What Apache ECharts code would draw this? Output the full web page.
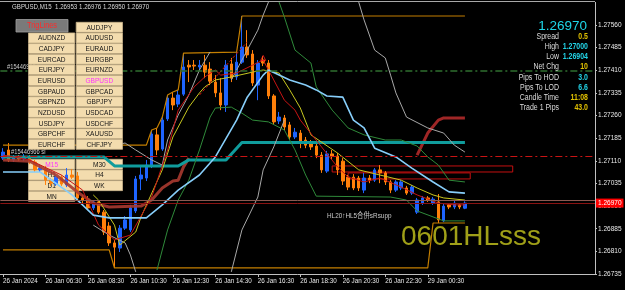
<!DOCTYPE html>
<html><head><meta charset="utf-8">
<script src="https://cdn.jsdelivr.net/npm/echarts@6/dist/echarts.min.js"></script>
<style>html,body{margin:0;padding:0;background:#000;}#c{width:625px;height:290px;}</style>
</head><body><div id="c"></div>
<script>
const BASE = 1.26735;
const tickLabels = [[0,'26 Jan 2024'],[8,'26 Jan 06:30'],[16,'26 Jan 08:30'],[24,'26 Jan 10:30'],[32,'26 Jan 12:30'],[40,'26 Jan 14:30'],[48,'26 Jan 16:30'],[56,'26 Jan 18:30'],[64,'26 Jan 20:30'],[72,'26 Jan 22:30'],[80,'29 Jan 00:30']];

const open = [1.27119,1.27146,1.27113,1.27123,1.27116,1.27123,1.27106,1.27080,1.27086,1.27046,
1.27033,1.27056,1.27030,1.27063,1.27060,1.26987,1.26983,1.26954,1.26974,1.26940,
1.26894,1.26838,1.26821,1.26887,1.26881,1.26944,1.27050,1.27053,1.27096,1.27196,
1.27149,1.27249,1.27318,1.27298,1.27331,1.27427,1.27427,1.27421,1.27427,1.27414,
1.27371,1.27335,1.27295,1.27431,1.27388,1.27437,1.27487,1.27464,1.27361,1.27444,
1.27434,1.27325,1.27242,1.27252,1.27229,1.27189,1.27202,1.27179,1.27169,1.27159,
1.27129,1.27076,1.27133,1.27126,1.27109,1.27056,1.27056,1.27053,1.27013,1.27053,
1.27046,1.27080,1.27070,1.27040,1.27013,1.27020,1.27020,1.27003,1.26940,1.26970,
1.26987,1.26970,1.26974,1.26911,1.26964,1.26957,1.26964,1.26953];
const close = [1.27139,1.27113,1.27123,1.27116,1.27123,1.27106,1.27080,1.27086,1.27046,1.27036,
1.27056,1.27033,1.27063,1.27056,1.26987,1.26980,1.26954,1.26974,1.26940,1.26874,
1.26838,1.26824,1.26887,1.26914,1.26954,1.27050,1.27063,1.27096,1.27199,1.27146,
1.27245,1.27318,1.27295,1.27328,1.27421,1.27421,1.27424,1.27427,1.27404,1.27374,
1.27335,1.27295,1.27427,1.27384,1.27437,1.27487,1.27461,1.27368,1.27434,1.27434,
1.27325,1.27239,1.27255,1.27222,1.27189,1.27205,1.27169,1.27162,1.27156,1.27129,
1.27080,1.27133,1.27126,1.27080,1.27043,1.27023,1.27020,1.27020,1.27053,1.27046,
1.27080,1.27070,1.27040,1.27013,1.27040,1.27040,1.27003,1.27023,1.26980,1.26987,
1.26980,1.26983,1.26914,1.26960,1.26957,1.26970,1.26957,1.26970];
const high = [1.27152,1.27169,1.27129,1.27129,1.27133,1.27129,1.27113,1.27096,1.27093,1.27053,
1.27063,1.27063,1.27086,1.27083,1.27073,1.26997,1.26993,1.26980,1.26980,1.26947,
1.26907,1.26848,1.26897,1.26927,1.26964,1.27060,1.27093,1.27113,1.27212,1.27219,
1.27255,1.27328,1.27338,1.27345,1.27467,1.27444,1.27444,1.27444,1.27461,1.27437,
1.27394,1.27384,1.27444,1.27451,1.27470,1.27590,1.27543,1.27477,1.27444,1.27457,
1.27444,1.27331,1.27272,1.27262,1.27239,1.27219,1.27212,1.27189,1.27179,1.27169,
1.27139,1.27143,1.27146,1.27136,1.27119,1.27063,1.27066,1.27060,1.27070,1.27063,
1.27086,1.27096,1.27076,1.27046,1.27046,1.27046,1.27027,1.27030,1.26987,1.26993,
1.26993,1.26990,1.27000,1.26970,1.26970,1.26977,1.26970,1.26976];
const low = [1.27113,1.27106,1.27106,1.27109,1.27109,1.27099,1.27073,1.27073,1.27030,1.27027,
1.27027,1.27027,1.27023,1.27050,1.26980,1.26970,1.26947,1.26947,1.26934,1.26864,
1.26828,1.26755,1.26808,1.26881,1.26874,1.26937,1.27013,1.27043,1.27086,1.27129,
1.27143,1.27242,1.27278,1.27288,1.27325,1.27371,1.27411,1.27411,1.27384,1.27361,
1.27321,1.27278,1.27272,1.27371,1.27378,1.27431,1.27451,1.27358,1.27311,1.27424,
1.27315,1.27229,1.27232,1.27212,1.27179,1.27182,1.27152,1.27152,1.27146,1.27119,
1.27070,1.27070,1.27116,1.27063,1.27030,1.27013,1.27013,1.27010,1.27003,1.27036,
1.27040,1.27036,1.27030,1.27003,1.27007,1.27013,1.26997,1.26997,1.26934,1.26964,
1.26974,1.26964,1.26904,1.26907,1.26950,1.26950,1.26950,1.26950];

// indicator lines: [barIndex, price]
const lightBlue = [[0,1.27073],[7,1.27073],[13,1.26997],[17,1.26930],[20,1.26921],[27,1.26921],[30,1.26964],[33,1.27013],[37,1.27063],[40,1.27123],[44,1.27245],[46,1.27321],[49,1.27394],[50,1.27411],[54,1.27378],[57,1.27361],[59,1.27345],[61,1.27325],[64,1.27321],[66,1.27245],[68,1.27219],[70,1.27152],[74,1.27123],[77,1.27086],[81,1.27040],[84,1.27007],[87,1.27003]];
const teal = [[0,1.27123],[19,1.27123],[21,1.27093],[33,1.27093],[35,1.27113],[42,1.27113],[45,1.27171],[87,1.27171]];
const chanHigh = [[0,1.27162],[27,1.27162],[28,1.27212],[29,1.27219],[30,1.27255],[31,1.27328],[32,1.27338],[33,1.27345],[34,1.27467],[44,1.27470],[45,1.27590],[87,1.27590]];
const chanLow = [[0,1.26815],[20,1.26815],[21,1.26755],[80,1.26755],[81,1.26904],[87,1.26904]];
const grayA = [[17,1.26897],[20,1.26864],[23,1.26838],[24,1.26798],[25,1.26742]];
const grayB = [[21,1.27162],[23,1.27169],[25,1.27146],[28,1.27113],[30,1.27096],[31,1.27179],[33,1.27262],[35,1.27328],[37,1.27411],[39,1.27471]];
const grayC = [[43,1.26742],[45,1.26881],[48,1.26990],[49,1.27080],[51,1.27156],[53,1.27245]];
const grayD = [[43,1.27378],[46,1.27477],[48,1.27543],[49,1.27593],[50,1.27636]];
const grayE = [[67,1.27636],[68,1.27577],[70,1.27477],[72,1.27451],[73,1.27394],[74,1.27335],[76,1.27255],[80,1.27219],[83,1.27202],[85,1.27162],[87,1.27139]];
const greenA = [[29,1.26748],[31,1.26881],[33,1.26980],[35,1.27046],[37,1.27146],[39,1.27255],[40,1.27285],[43,1.27288],[45,1.27268],[47,1.27245],[50,1.27239],[53,1.27212],[55,1.27146],[57,1.27063],[59,1.26993],[73,1.26990],[76,1.26980],[78,1.26944],[83,1.26911],[87,1.26911]];
const greenB = [[52,1.27636],[53,1.27586],[55,1.27477],[58,1.27434],[59,1.27355],[62,1.27278],[65,1.27219],[68,1.27196],[72,1.27179],[75,1.27179],[78,1.27159],[80,1.27123],[82,1.27096],[84,1.27046],[87,1.27040]];
const yellow = [[17,1.26997],[18,1.26980],[21,1.26897],[22,1.26831],[25,1.26874],[26,1.26924],[30,1.27080],[32,1.27189],[35,1.27288],[37,1.27335],[38,1.27355],[40,1.27378],[43,1.27388],[47,1.27404],[49,1.27411],[52,1.27401],[54,1.27345],[56,1.27285],[58,1.27196],[63,1.27136],[67,1.27080],[71,1.27063],[75,1.27046],[78,1.27020],[81,1.26997],[83,1.26987],[87,1.26980]];
const redMA = [[0,1.27129],[5,1.27113],[11,1.27063],[15,1.27013],[18,1.26897],[21,1.26848],[24,1.26864],[28,1.26990],[31,1.27146],[33,1.27278],[36,1.27355],[38,1.27388],[40,1.27411],[41,1.27394],[44,1.27401],[47,1.27427],[49,1.27444],[51,1.27378],[53,1.27311],[55,1.27278],[56,1.27245],[60,1.27156],[63,1.27090],[65,1.27056],[68,1.27040],[71,1.27053],[75,1.27023],[78,1.26997],[82,1.26970],[85,1.26964],[87,1.26964]];
const maroonA = [[0,1.27113],[5,1.27109],[10,1.27063],[14,1.27007],[17,1.26970],[20,1.26957],[26,1.26960],[28,1.26980],[30,1.27020],[32,1.27043],[33,1.27046],[34,1.27090],[35,1.27119]];
const maroonB = [[78,1.27129],[80,1.27202],[82,1.27245],[83,1.27252],[87,1.27252]];
const trendLine = [[37,1.27328],[46,1.27504]];
const markers = [[49,1.27451]];

const tpLevel = 1.27410, slLevel = 1.27126, bidLevel = 1.26970, askLevel = 1.26977, auxLevel = 1.26978;
const zones = [[62,96,1.27093,1.27073],[65,88,1.27070,1.27050]];

const symRows = [[null,'AUDJPY'],['AUDNZD','AUDUSD'],['CADJPY','EURAUD'],['EURCAD','EURGBP'],['EURJPY','EURNZD'],['EURUSD','GBPUSD'],['GBPAUD','GBPCAD'],['GBPNZD','GBPJPY'],['NZDUSD','USDCAD'],['USDJPY','USDCHF'],['GBPCHF','XAUUSD'],['EURCHF','CHFJPY']];
const tfRows = [['M15','M30'],['H1','H4'],['D1','WK'],['MN',null]];
const infoLabels = ['Spread','High','Low','Net Chg','Pips To HOD','Pips To LOD','Candle Time','Trade 1 Pips'];
const infoValues = ['0.5','1.27000','1.26904','10','3.0','6.6','11:08','43.0'];
const infoKinds = ['y','c','c','y','c','c','y','y'];

const N = 112;
const F = "'Liberation Sans',Arial,sans-serif";
const cats = []; for (let i = 0; i < N; i++) cats.push(String(i));
const tickMap = {}; tickLabels.forEach(([i, t]) => tickMap[i] = t);
const P = p => +((p - BASE) * 1e5).toFixed(2);
const candle = open.map((o, i) => [P(o), P(close[i]), P(low[i]), P(high[i])]);
const pairs = arr => arr.map(([i, p]) => [i, P(p)]);

function ln(data, color, width, extra) {
  return Object.assign({type:'line', data: pairs(data), symbol:'none', silent:true, z:3,
    lineStyle:{color, width}}, extra || {});
}

const series = [
  {type:'candlestick', data:candle, barWidth:3, z:2, silent:true,
   itemStyle:{color:'#1e64ff', color0:'#ff800a', borderColor:'#1e64ff', borderColor0:'#ff800a', borderWidth:1},
   markArea:{silent:true, data: zones.map(z => [{coord:[z[0], P(z[2])]}, {coord:[z[1], P(z[3])]}]),
     itemStyle:{color:'rgba(0,0,0,0)', borderColor:'#c41010', borderWidth:1}},
   markLine:{silent:true, symbol:['none','none'], animation:false, data:[
     {yAxis:P(tpLevel), lineStyle:{color:'#2f6f2f', width:1.5, type:[7,3,2,3]}, label:{show:false}},
     {yAxis:P(slLevel), lineStyle:{color:'#c81414', width:1.2, type:[7,3,2,3]}, label:{show:false}},
     {yAxis:P(auxLevel), lineStyle:{color:'#8c5a52', width:1, type:'solid'}, label:{show:false}},
     {yAxis:P(askLevel), lineStyle:{opacity:0}, label:{show:true, position:'end', distance:1, formatter:'1.26975', backgroundColor:'#1c9c3c', color:'#1c9c3c', fontSize:6.5, fontFamily:F, padding:[1,2,1,2]}},
     {yAxis:P(bidLevel), lineStyle:{color:'#8a1212', width:1, type:'solid'}, label:{show:true, position:'end', distance:1, formatter:'1.26970', backgroundColor:'#ff0000', color:'#ffffff', fontSize:6.5, fontFamily:F, padding:[1,2,1,2]}}
   ]}},
  ln(chanHigh, '#c47f00', 1.2),
  ln(chanLow, '#c47f00', 1.2),
  ln(maroonA, 'rgba(168,58,48,0.9)', 3),
  ln(maroonB, 'rgba(168,40,40,0.95)', 3),
  ln(teal, '#109c9c', 3),
  ln(grayA, '#a8a8a8', 1),
  ln(grayB, '#a8a8a8', 1),
  ln(grayC, '#a8a8a8', 1),
  ln(grayD, '#a8a8a8', 1),
  ln(grayE, '#a8a8a8', 1),
  ln(greenA, '#2f8a3a', 1),
  ln(greenB, '#2f8a3a', 1),
  ln(yellow, '#c8c820', 1),
  ln(redMA, '#c81414', 1),
  ln(lightBlue, '#87cefa', 1.6),
  ln(trendLine, '#d01010', 1, {lineStyle:{color:'#d01010', width:1, type:[3,2]}}),
  {type:'scatter', data:pairs(markers), symbol:'triangle', symbolSize:5, silent:true, z:4, itemStyle:{color:'rgba(0,0,0,0)', borderColor:'#ff2020', borderWidth:1}}
];

const gfx = [];
function txt(x, y, text, o) {
  return {type:'text', x, y, z:o.z, silent:true, scaleX:(o.sx || 0.82), scaleY:1, style:{text, fill:o.fill, font:o.font,
    textAlign:o.align||'left', align:o.align||'left', textVerticalAlign:'middle', verticalAlign:'middle'}};
}
function rect(x, y, w, h, z, fill, stroke) {
  return {type:'rect', z, silent:true, shape:{x, y, width:w, height:h}, style:{fill, stroke, lineWidth:0.8}};
}
gfx.push({type:'line', z:5, silent:true, shape:{x1:0, y1:1.5, x2:595, y2:1.5}, style:{stroke:'#a8a8a8', lineWidth:1}});
gfx.push(txt(12, 6.5, 'GBPUSD,M15  1.26953 1.26976 1.26950 1.26970', {fill:'#dcdcdc', font:'7.5px ' + F, z:60}));
gfx.push(txt(7, 67.5, '#15446966 tp', {fill:'#c8c8c8', font:'7px ' + F, z:50}));
gfx.push(txt(11, 152.5, '#15446966 sl', {fill:'#d0d0d0', font:'7px ' + F, z:50}));
// symbol buttons (on top)
const colX = [28.5, 76.2], BW = 46.3, BH = 10;
gfx.push(rect(16, 19.5, 52, 12.5, 110, '#7a7a7a', '#a0a0a0'));
gfx.push(txt(42, 26, 'TrigLines', {fill:'#ff2a2a', font:'9px ' + F, align:'center', z:111}));
symRows.forEach((row, r) => {
  const y = 22.3 + r * 10.64;
  row.forEach((s, c) => {
    if (!s) return;
    gfx.push(rect(colX[c], y, BW, BH, 100, '#f3dcae', '#c9b48a'));
    gfx.push(txt(colX[c] + BW / 2, y + BH / 2 + 0.3, s, {fill: s === 'GBPUSD' ? '#ff33ff' : '#151515', font:'8px ' + F, align:'center', z:101}));
  });
});
tfRows.forEach((row, r) => {
  const y = 159.3 + r * 10.67;
  row.forEach((s, c) => {
    if (!s) return;
    gfx.push(rect(colX[c], y, BW, BH, 0, '#f3dcae', '#c9b48a'));
    gfx.push(txt(colX[c] + BW / 2, y + BH / 2 + 0.3, s, {fill: s === 'M15' ? '#ff33ff' : '#151515', font:'8px ' + F, align:'center', z:1}));
  });
});
// info panel
gfx.push(txt(587, 26, '1.26970', {fill:'#1ed6e8', font:'13.5px ' + F, align:'right', z:60, sx:1}));
infoLabels.forEach((l, k) => {
  const y = 36.8 + k * 10.1;
  gfx.push(txt(559, y, l, {fill:'#dcdcdc', font:'8.5px ' + F, align:'right', z:60}));
  gfx.push(txt(588, y, infoValues[k], {fill: infoKinds[k] === 'y' ? '#e0c000' : '#22d3e6', font:'bold 8.5px ' + F, align:'right', z:60}));
});
gfx.push(txt(327, 215.5, 'HL20↑HL5合併sRsupp', {fill:'#c8c8c8', font:"7.5px 'Liberation Sans','Noto Sans CJK TC',sans-serif", z:60, sx:0.85}));
gfx.push(txt(401, 237, '0601HLsss', {fill:'#a0a018', font:'28px ' + F, z:60, sx:1}));

const chart = echarts.init(document.getElementById('c'), null, {renderer:'canvas'});
chart.setOption({
  backgroundColor:'#000000',
  animation:false,
  grid:{left:-1, width:596, top:2.4, height:271.6, containLabel:false},
  xAxis:{type:'category', data:cats, boundaryGap:true, offset:1.5,
    axisLine:{show:true, lineStyle:{color:'#c0c0c0', width:1}},
    axisTick:{show:true, alignWithLabel:true, length:3, interval:(i) => (i in tickMap), lineStyle:{color:'#c0c0c0'}},
    axisLabel:{interval:(i) => (i in tickMap), formatter:(v, i) => tickMap[i] || '', align:'left', color:'#e8e8e8', fontSize:6.3, fontFamily:F, margin:2.5},
    splitLine:{show:false}},
  yAxis:{type:'value', position:'right', min:0, max:900, interval:75,
    axisLine:{show:true, lineStyle:{color:'#c0c0c0', width:1}},
    axisTick:{show:true, length:2, lineStyle:{color:'#c0c0c0'}},
    axisLabel:{color:'#e8e8e8', fontSize:6.5, fontFamily:F, margin:3, showMaxLabel:false, formatter:v => (BASE + v / 1e5).toFixed(5)},
    splitLine:{show:false}},
  series,
  graphic:{elements:gfx}
});
</script></body></html>
